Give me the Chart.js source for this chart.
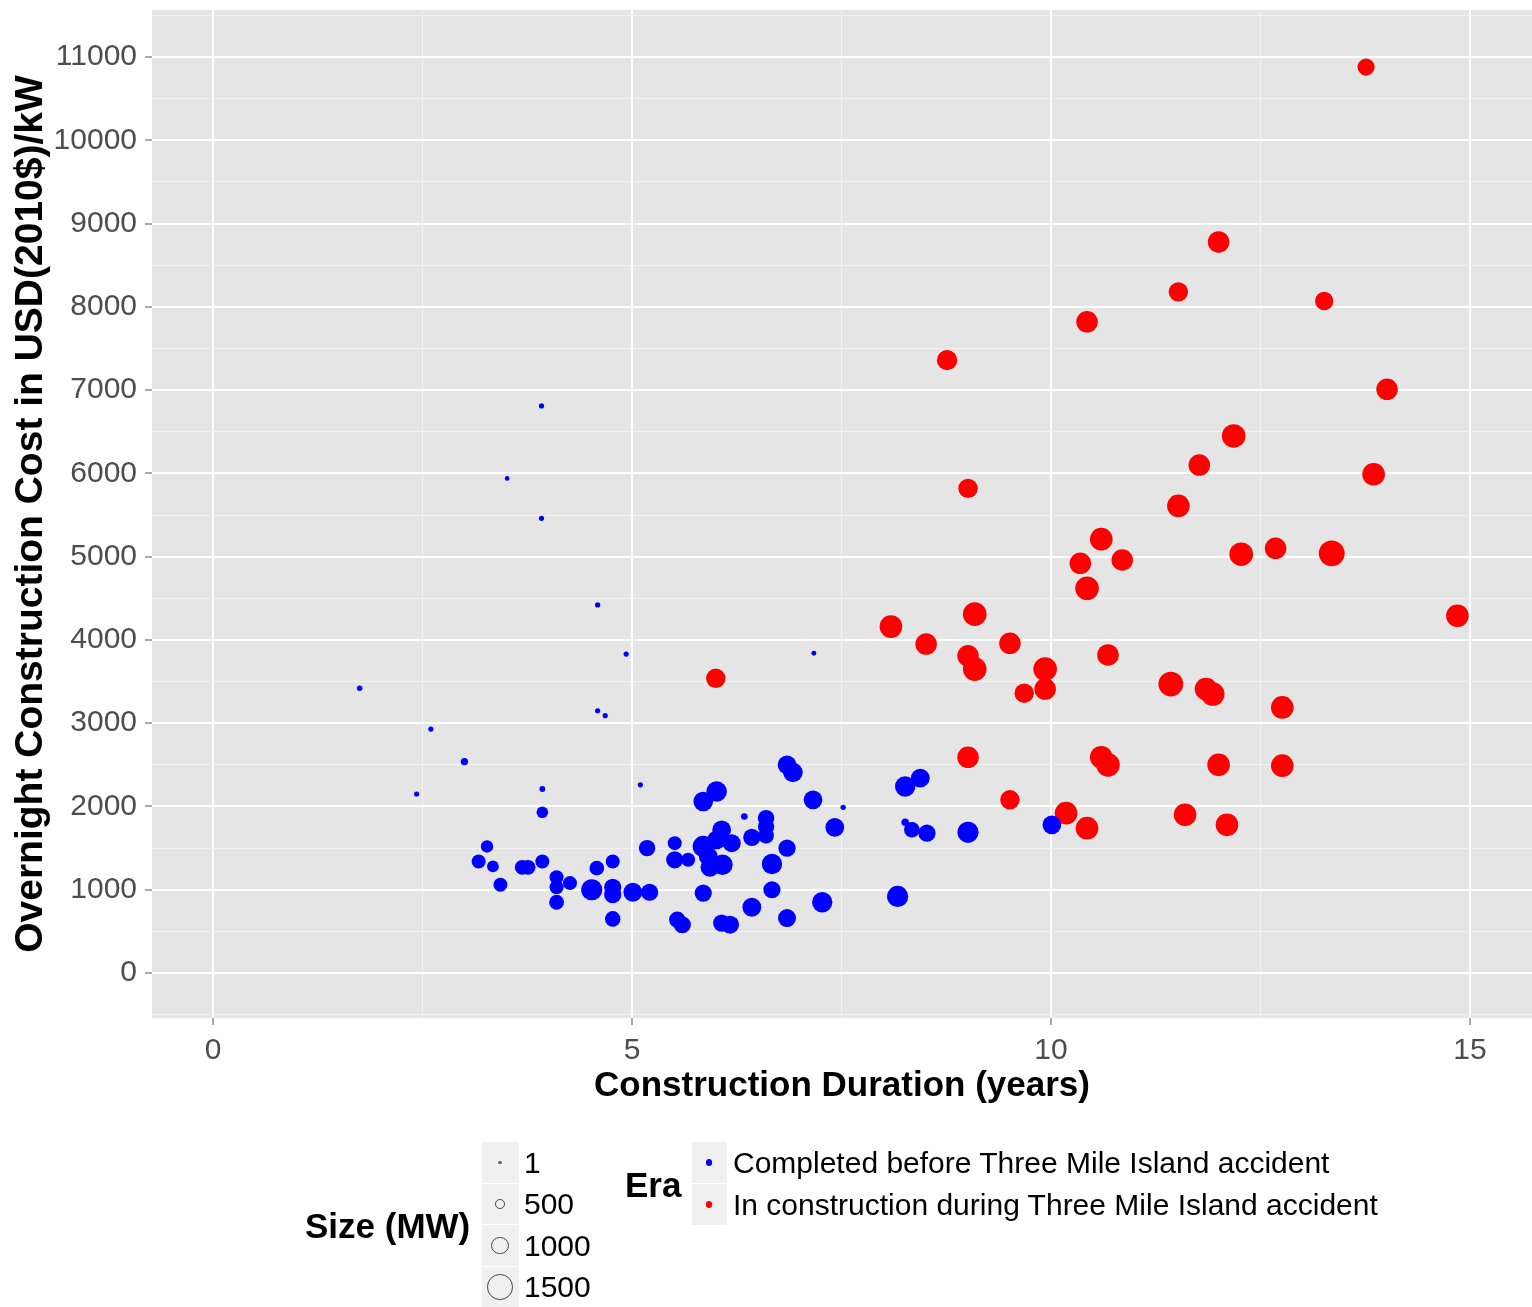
<!DOCTYPE html>
<html>
<head>
<meta charset="utf-8">
<script src="https://cdn.jsdelivr.net/npm/chart.js@4.4.1/dist/chart.umd.min.js"></script>
<style>
  html, body { margin: 0; padding: 0; background: #fff; }
  #wrap { position: relative; width: 1532px; height: 1307px; font-family: "Liberation Sans", Arial, sans-serif; }
  #chart { position: absolute; left: 0; top: 0; }
  .txt { position: absolute; white-space: nowrap; color: #000; }
  .key { position: absolute; background: #f0f0f0; }
  .dot { position: absolute; border-radius: 50%; box-sizing: border-box; }
</style>
</head>
<body>
<div id="wrap">
  <canvas id="chart" width="1532" height="1307"></canvas>
</div>
<script>
// completed before Three Mile Island accident
const blueDur = [3.92, 3.51, 3.92, 4.59, 4.93, 1.75, 4.59, 4.68, 2.60, 3.00, 2.43, 3.93, 5.10, 7.17, 7.52, 6.34, 8.26,
  3.93, 6.01, 5.85, 3.27, 3.17, 3.34, 3.43, 3.69, 3.76, 3.93, 4.10, 4.10, 4.26, 4.10, 4.52, 4.58,
  4.77, 4.77, 4.77, 4.77, 5.01, 5.21, 5.18, 5.51, 5.51, 5.67, 5.85, 5.85, 6.01, 5.93, 5.54, 5.60, 6.07, 6.17,
  6.85, 6.92, 7.16, 7.42, 6.60, 6.60, 6.43, 6.60, 6.85, 6.07, 6.19, 5.91, 6.08, 6.67, 6.67, 6.43, 6.85, 7.27, 8.17,
  8.26, 8.44, 8.34, 8.52, 9.01, 10.01];
const blueCost = [6810, 5940, 5460, 4420, 3830, 3420, 3150, 3090, 2930, 2540, 2150, 2210, 2260, 3840, 1990, 1880, 1810,
  1930, 2180, 2060, 1520, 1340, 1280, 1060, 1270, 1270, 1340, 1150, 1030, 1080, 850, 1000, 1260,
  1340, 1030, 940, 650, 970, 970, 1500, 1560, 1360, 1360, 1520, 960, 1600, 1270, 640, 580, 600, 580,
  2500, 2410, 2080, 1750, 1860, 1760, 1630, 1650, 1500, 1720, 1560, 1400, 1300, 1310, 1000, 790, 660, 850, 920,
  2240, 2340, 1720, 1680, 1690, 1780];
const blueMW = [150, 120, 150, 150, 150, 170, 150, 150, 150, 280, 150, 190, 150, 130, 160, 240, 300,
  550, 1100, 1050, 600, 700, 560, 700, 750, 750, 700, 700, 700, 700, 750, 1150, 750,
  700, 900, 900, 800, 1000, 900, 850, 700, 900, 700, 1150, 900, 1000, 1000, 850, 900, 900, 950,
  1000, 1050, 1000, 1000, 850, 850, 900, 800, 900, 1000, 950, 1000, 1100, 1100, 900, 1000, 950, 1100, 1150,
  1100, 1000, 800, 900, 1150, 1000];

// in construction during the accident
const redDur = [13.76, 12.0, 11.52, 13.26, 10.43, 8.76, 14.01, 12.18, 11.77, 13.85, 9.01, 11.52, 10.60, 10.35, 10.85,
  12.27, 12.68, 13.35, 10.43, 9.09, 14.85, 8.09, 8.51, 9.51, 9.01, 9.09, 9.93, 10.68, 6.00, 9.68, 9.93,
  11.43, 11.85, 11.93, 12.76, 9.01, 10.60, 10.68, 12.0, 12.76, 9.51, 10.18, 10.43, 11.6, 12.1];
const redCost = [10880, 8780, 8180, 8070, 7820, 7360, 7010, 6450, 6100, 5990, 5820, 5610, 5210, 4920, 4960,
  5030, 5100, 5040, 4620, 4310, 4290, 4160, 3950, 3960, 3810, 3650, 3650, 3820, 3540, 3360, 3410,
  3470, 3410, 3350, 3190, 2590, 2590, 2500, 2500, 2490, 2080, 1920, 1740, 1900, 1780];
const redMW = [900, 1170, 1040, 970, 1170, 1100, 1170, 1300, 1170, 1240, 1040, 1240, 1240, 1170, 1170,
  1300, 1170, 1440, 1300, 1300, 1240, 1240, 1170, 1170, 1170, 1300, 1300, 1170, 1040, 1040, 1170,
  1370, 1240, 1300, 1240, 1170, 1240, 1300, 1240, 1240, 1040, 1240, 1240, 1240, 1240];

const xMajor = [0, 5, 10, 15];
const xMinor = [2.5, 7.5, 12.5];
const yMajor = [0, 1000, 2000, 3000, 4000, 5000, 6000, 7000, 8000, 9000, 10000, 11000];
const yMinor = [-500, 500, 1500, 2500, 3500, 4500, 5500, 6500, 7500, 8500, 9500, 10500, 11500];

const sizeBreaks = [1, 500, 1000, 1500];
const eraLabels = ['Completed before Three Mile Island accident', 'In construction during Three Mile Island accident'];
const eraColors = ['#0000ff', '#ff0000'];

const family = '"Liberation Sans", Arial, sans-serif';
const sizeRadius = mw => 1.4 + mw * 0.008;

const toPoints = (xs, ys, ms) => xs.map((x, i) => ({ x: x, y: ys[i], mw: ms[i] }));

const panelBg = {
  id: 'panelBg',
  beforeDraw(chart) {
    const { ctx, chartArea: a } = chart;
    ctx.save();
    ctx.fillStyle = '#e5e5e5';
    ctx.fillRect(a.left, a.top, a.right - a.left, a.bottom - a.top);
    ctx.restore();
  }
};

const gridFor = (major) => ({
  color: c => c.tick && major.includes(c.tick.value) ? '#ffffff' : '#f2f2f2',
  lineWidth: c => c.tick && major.includes(c.tick.value) ? 2 : 1,
  drawTicks: true,
  tickLength: 7,
  tickColor: c => c.tick && major.includes(c.tick.value) ? '#555555' : 'rgba(0,0,0,0)',
  tickWidth: 1
});

new Chart(document.getElementById('chart'), {
  type: 'scatter',
  data: {
    datasets: [
      {
        label: eraLabels[0],
        data: toPoints(blueDur, blueCost, blueMW),
        backgroundColor: eraColors[0],
        pointBorderWidth: 0,
        pointRadius: c => c.raw ? sizeRadius(c.raw.mw) : 3
      },
      {
        label: eraLabels[1],
        data: toPoints(redDur, redCost, redMW),
        backgroundColor: eraColors[1],
        pointBorderWidth: 0,
        pointRadius: c => c.raw ? sizeRadius(c.raw.mw) : 3
      }
    ]
  },
  options: {
    responsive: false,
    animation: false,
    events: [],
    layout: { autoPadding: false, padding: { top: 10, right: 0, bottom: 199, left: 0 } },
    plugins: { legend: { display: false }, tooltip: { enabled: false } },
    scales: {
      x: {
        type: 'linear',
        min: -0.728,
        max: 15.74,
        afterBuildTicks: axis => { axis.ticks = xMinor.concat(xMajor).sort((a, b) => a - b).map(v => ({ value: v })); },
        afterFit: s => { s.height = 90; s.paddingLeft = 0; s.paddingRight = 0; },
        ticks: {
          autoSkip: false,
          maxRotation: 0,
          padding: 8,
          color: '#4d4d4d',
          font: { family: family, size: 30 },
          callback: v => xMajor.includes(v) ? String(v) : ''
        },
        grid: gridFor(xMajor),
        border: { display: false },
        title: {
          display: true,
          text: 'Construction Duration (years)',
          color: '#000',
          font: { family: family, size: 35, weight: 'bold' },
          padding: { top: 0, bottom: 1 }
        }
      },
      y: {
        type: 'linear',
        min: -540,
        max: 11565,
        afterBuildTicks: axis => { axis.ticks = yMinor.concat(yMajor).sort((a, b) => a - b).map(v => ({ value: v })); },
        afterFit: s => { s.width = 152; s.paddingTop = 0; s.paddingBottom = 0; },
        ticks: {
          autoSkip: false,
          padding: 8,
          color: '#4d4d4d',
          font: { family: family, size: 30 },
          callback: v => yMajor.includes(v) ? String(v) : ''
        },
        grid: gridFor(yMajor),
        border: { display: false },
        title: {
          display: true,
          text: 'Overnight Construction Cost in USD(2010$)/kW',
          color: '#000',
          font: { family: family, size: 39, weight: 'bold' },
          padding: { top: 8, bottom: 0 }
        }
      }
    }
  },
  plugins: [panelBg]
});

// legend below the panel
const wrap = document.getElementById('wrap');

const addText = (str, left, cy, size, bold) => {
  const d = document.createElement('div');
  d.className = 'txt';
  d.textContent = str;
  d.style.left = left + 'px';
  d.style.top = (cy - size * 0.6) + 'px';
  d.style.fontSize = size + 'px';
  d.style.lineHeight = (size * 1.2) + 'px';
  if (bold) d.style.fontWeight = 'bold';
  wrap.appendChild(d);
};

const addKey = (left, top, w, h) => {
  const d = document.createElement('div');
  d.className = 'key';
  d.style.left = left + 'px';
  d.style.top = top + 'px';
  d.style.width = w + 'px';
  d.style.height = h + 'px';
  wrap.appendChild(d);
};

const addDot = (cx, cy, r, fill, stroke) => {
  const d = document.createElement('div');
  d.className = 'dot';
  d.style.left = (cx - r) + 'px';
  d.style.top = (cy - r) + 'px';
  d.style.width = (2 * r) + 'px';
  d.style.height = (2 * r) + 'px';
  d.style.background = fill;
  if (stroke) d.style.border = '1.5px solid ' + stroke;
  wrap.appendChild(d);
};

addText('Size (MW)', 305, 1226, 35, true);
sizeBreaks.forEach((v, i) => {
  const top = 1142 + i * 41.5;
  addKey(482, top, 37, 40.5);
  const cy = top + 20.5;
  if (v < 100) addDot(500, cy, 1.8, '#666', null);
  else addDot(500, cy, sizeRadius(v) - 0.6, 'transparent', '#444');
  addText(String(v), 524, cy, 30, false);
});

addText('Era', 625, 1185, 35, true);
eraLabels.forEach((lab, i) => {
  const top = 1142 + i * 42;
  addKey(692, top, 35, 41);
  const cy = top + 20.5;
  addDot(709, cy, 3.4, eraColors[i], null);
  addText(lab, 733, cy, 30, false);
});
</script>
</body>
</html>
